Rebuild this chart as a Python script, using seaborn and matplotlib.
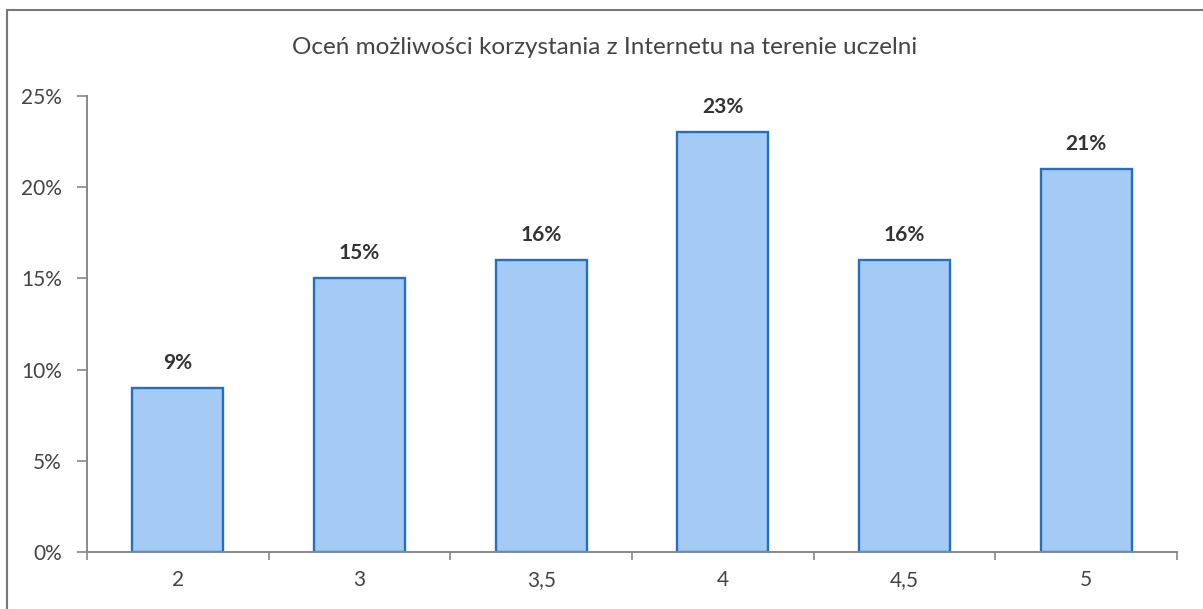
import matplotlib
matplotlib.use('Agg')
import matplotlib.pyplot as plt
import matplotlib.patches as mpatches
import seaborn as sns
import pandas as pd

categories = ['2', '3', '3,5', '4', '4,5', '5']
values = [9, 15, 16, 23, 16, 21]
yticks = [0, 5, 10, 15, 20, 25]
ytick_labels = ['0%', '5%', '10%', '15%', '20%', '25%']
title = 'Oceń możliwości korzystania z Internetu na terenie uczelni'

df = pd.DataFrame({'ocena': categories, 'procent': values})

sns.set_style('white')
plt.rcParams['font.family'] = ['Lato', 'DejaVu Sans']

fig = plt.figure(figsize=(12.03, 6.09), dpi=100)
ax = fig.add_axes([0.0723, 0.0936, 0.9061, 0.7488])

sns.barplot(data=df, x='ocena', y='procent', color='#A5CAF4',
            edgecolor='#2270C2', linewidth=1.7, width=0.5, saturation=1, ax=ax)

for c in ax.containers:
    ax.bar_label(c, labels=[f'{v}%' for v in values], padding=11,
                 fontsize=15, fontweight='bold', color='#333333')

ax.set_xlim(-0.5, len(categories) - 0.5)
ax.set_ylim(0, 25)
ax.set_yticks(yticks)
ax.set_yticklabels(ytick_labels, fontsize=15, color='#444444')
ax.tick_params(axis='x', which='major', length=0, labelsize=15, labelcolor='#444444', pad=13)
ax.set_xticks([i - 0.5 for i in range(len(categories) + 1)], minor=True)
ax.tick_params(axis='x', which='minor', length=6, color='#888888', width=1.2, direction='out')
ax.tick_params(axis='y', length=7, color='#888888', width=1.2, direction='out', pad=11)
ax.yaxis.set_ticks_position('left')
ax.xaxis.set_ticks_position('bottom')
ax.set_xlabel('')
ax.set_ylabel('')

for s in ['top', 'right']:
    ax.spines[s].set_visible(False)
for s in ['left', 'bottom']:
    ax.spines[s].set_color('#888888')
    ax.spines[s].set_linewidth(1.4)

fig.text(0.503, 0.922, title, ha='center', va='center', fontsize=17.5, color='#444444')

border = mpatches.Rectangle((7 / 1203, -0.05), 1.2, 1 - 10 / 609 + 0.05,
                            transform=fig.transFigure, fill=False,
                            edgecolor='#777777', linewidth=1.5)
fig.patches.append(border)

fig.savefig('out.png', dpi=100)
